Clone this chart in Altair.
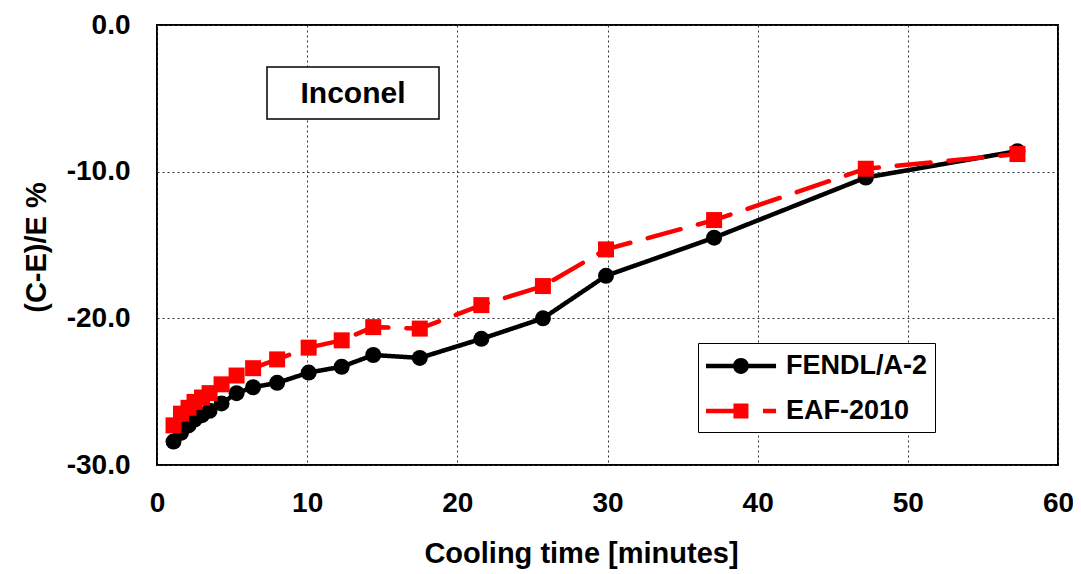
import altair as alt
import pandas as pd

# Cooling times (minutes)
cooling_time = [1.1, 1.6, 2.1, 2.5, 3.0, 3.5, 4.3, 5.3, 6.4, 8.0, 10.1, 12.3,
                14.4, 17.5, 21.6, 25.7, 29.9, 37.1, 47.2, 57.3]
# (C-E)/E % values
fendl = [-28.4, -27.8, -27.3, -26.9, -26.6, -26.3, -25.8, -25.1, -24.7, -24.4,
         -23.7, -23.3, -22.5, -22.7, -21.4, -20.0, -17.1, -14.5, -10.4, -8.6]
eaf = [-27.3, -26.5, -26.1, -25.7, -25.4, -25.1, -24.5, -23.9, -23.4, -22.8,
       -22.0, -21.5, -20.6, -20.7, -19.1, -17.8, -15.3, -13.3, -9.8, -8.8]
series_names = ["FENDL/A-2", "EAF-2010"]
x_ticks = [0, 10, 20, 30, 40, 50, 60]
y_ticks = [-30, -20, -10, 0]
annotation = ["Inconel"]

df = pd.DataFrame({
    "t": cooling_time * 2,
    "v": fendl + eaf,
    "series": [series_names[0]] * len(fendl) + [series_names[1]] * len(eaf),
})

FONT = "Liberation Sans"
W, H = 901, 440

x_enc = alt.X("t:Q", scale=alt.Scale(domain=[0, 60], nice=False),
              axis=alt.Axis(values=x_ticks, format="d", title="Cooling time [minutes]",
                            grid=True, ticks=False, domain=False, labelFlush=False,
                            labelBaseline="alphabetic", labelPadding=46,
                            titleX=424, titleY=97, titleBaseline="alphabetic",
                            titleAlign="center"))
y_enc = alt.Y("v:Q", scale=alt.Scale(domain=[-30, 0], nice=False),
              axis=alt.Axis(values=y_ticks, title="(C-E)/E %",
                            labelExpr="(datum.value < 0 ? '-' : '') + format(abs(datum.value), '.1f')",
                            grid=True, ticks=False, domain=False, labelFlush=False, labelPadding=27,
                            titleAngle=-90, titleX=-112, titleY=222,
                            titleBaseline="alphabetic", titleAlign="center"))

# legend glyphs (line + marker) as filled custom symbol paths
black_path = ("M-1,-0.15H3.67V0.15H-1Z "
              "M1.86,0A0.53,0.53 0 1,1 0.8,0A0.53,0.53 0 1,1 1.86,0Z")
red_path = ("M-1,-0.15H1.0V0.15H-1Z "
            "M0.83,-0.5H1.83V0.5H0.83Z "
            "M2.8,-0.15H3.67V0.15H2.8Z")

color_scale = alt.Scale(domain=series_names, range=["#000000", "#ff0000"])

legend = alt.Legend(
    orient="none", legendX=541, legendY=318, title=None,
    symbolSize=900, symbolStrokeWidth=0, symbolOpacity=1, labelOffset=50,
    padding=8, rowPadding=17, strokeColor="black", fillColor="white",
    labelFont=FONT, labelFontSize=27, labelFontWeight="bold", labelColor="black",
    labelLimit=400,
)

lines = alt.Chart(df).mark_line(strokeWidth=4.5, strokeCap="round").encode(
    x=x_enc, y=y_enc,
    color=alt.Color("series:N", scale=color_scale, legend=None),
    strokeDash=alt.StrokeDash("series:N", scale=alt.Scale(domain=series_names, range=[[1, 0], [34, 18]]),
                              legend=None),
    order=alt.Order("t:Q"),
)

legend_layer = alt.Chart(df).mark_point(filled=True, opacity=0).encode(
    x=x_enc, y=y_enc,
    color=alt.Color("series:N", scale=color_scale, legend=legend),
    shape=alt.Shape("series:N", scale=alt.Scale(domain=series_names, range=[black_path, red_path]),
                    legend=legend),
)

black_pts = alt.Chart(df).transform_filter(alt.datum.series == series_names[0]).mark_point(
    shape="circle", filled=True, size=256, color="#000000", opacity=1
).encode(x=x_enc, y=y_enc)

red_pts = alt.Chart(df).transform_filter(alt.datum.series == series_names[1]).mark_point(
    shape="square", filled=True, size=256, color="#ff0000", opacity=1
).encode(x=x_enc, y=y_enc)

ann_df = pd.DataFrame({"label": annotation})
ann_box = alt.Chart(ann_df).mark_rect(fill="white", stroke="black", strokeWidth=1.5).encode(
    x=alt.value(110), x2=alt.value(282), y=alt.value(42), y2=alt.value(94))
ann_text = alt.Chart(ann_df).mark_text(font=FONT, fontSize=30, fontWeight="bold",
                                        color="black", align="center", baseline="middle").encode(
    x=alt.value(196), y=alt.value(69), text="label:N")

chart = alt.layer(lines, legend_layer, black_pts, red_pts, ann_box, ann_text).resolve_legend(
    color="independent", shape="independent", strokeDash="independent"
).properties(
    width=W, height=H,
    background="white",
    autosize=alt.AutoSizeParams(type="none"),
    padding={"left": 149, "top": 17, "right": 15, "bottom": 105},
).configure_view(
    stroke="black", strokeWidth=2
).configure_axis(
    labelFont=FONT, labelFontSize=28, labelFontWeight="bold", labelColor="black",
    titleFont=FONT, titleFontSize=29, titleFontWeight="bold", titleColor="black",
    gridColor="#333333", gridDash=[2, 3], gridWidth=1, gridOpacity=1,
)

chart.save("out.html", embed_options={"renderer": "svg", "actions": False})
